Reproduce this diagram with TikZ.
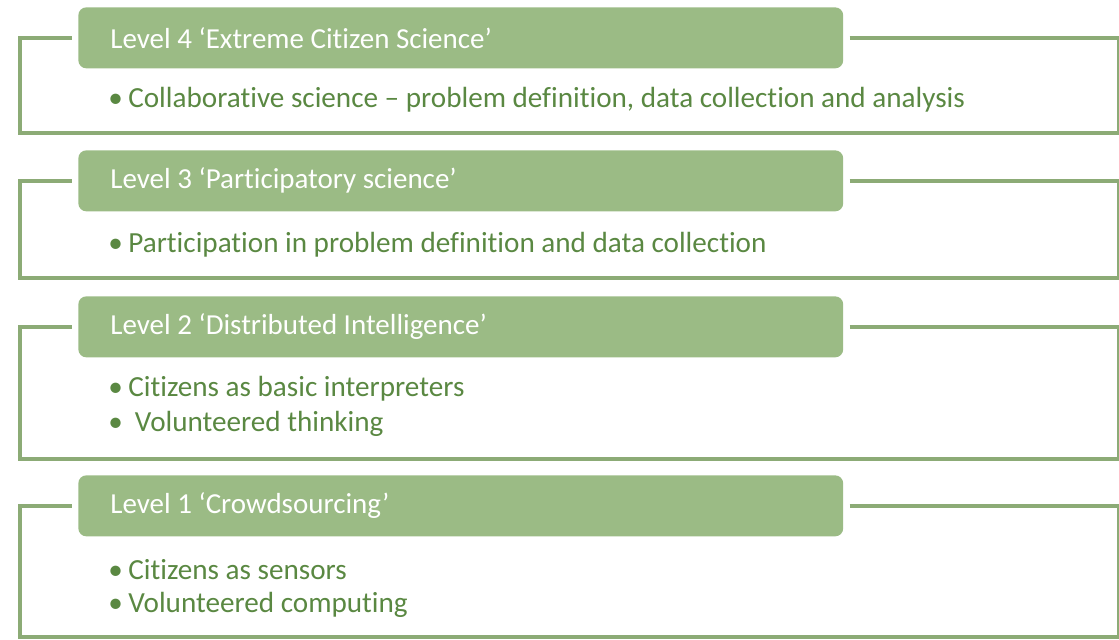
\documentclass[tikz,border=0pt]{standalone}
\usepackage{fontspec}
\setmainfont[Ligatures=NoCommon]{Carlito}
\definecolor{headgreen}{HTML}{9BBB85}
\definecolor{linegreen}{HTML}{8CAB76}
\definecolor{textgreen}{HTML}{5A8842}
\def\boxleft{20}
\def\boxright{1119}
\newcommand{\bul}{\makebox[0.4cm][l]{\textbullet}}
\newcommand{\headtext}[1]{\makebox[14.02cm][l]{#1}}
\tikzset{
	levelhead/.style={fill=headgreen, rounded corners=0.16cm, anchor=north west,
		minimum width=15.3cm, minimum height=1.22cm, inner xsep=0.64cm,
		text=white, font=\fontsize{16.5}{19}\selectfont},
	frameline/.style={draw=linegreen, line width=1.9pt, shorten <=0.12cm, shorten >=0.12cm},
	bullettext/.style={anchor=west, inner sep=0pt, text=textgreen, font=\fontsize{16.6}{19}\selectfont}
}

\begin{document}
\begin{tikzpicture}[x=0.02cm, y=-0.02cm]
				\useasboundingbox (0,0) rectangle (1119,639);
				
				%level headers
				\node[levelhead] (head4) at (78,7){\headtext{Level 4 ‘Extreme Citizen Science’}};
				\node[levelhead] (head3) at (78,150){\headtext{Level 3 ‘Participatory science’}};
				\node[levelhead] (head2) at (78,296){\headtext{Level 2 ‘Distributed Intelligence’}};
				\node[levelhead] (head1) at (78,475){\headtext{Level 1 ‘Crowdsourcing’}};
				
				%frame corners
				\coordinate (r4) at (\boxright,133); \coordinate (l4) at (\boxleft,133);
				\coordinate (r3) at (\boxright,278); \coordinate (l3) at (\boxleft,278);
				\coordinate (r2) at (\boxright,459); \coordinate (l2) at (\boxleft,459);
				\coordinate (r1) at (\boxright,637); \coordinate (l1) at (\boxleft,637);
				
				%drawing the frames
				\foreach \lev in {4,3,2,1}
					\draw[frameline] (head\lev.east) -| (r\lev) -- (l\lev) |- (head\lev.west);
				 
				\node[bullettext] (item4) at (108,100){\bul Collaborative science -- problem definition, data collection and analysis};
				\node[bullettext] (item3) at (108,245){\bul Participation in problem definition and data collection};
				\node[bullettext] (item2a) at (108,389){\bul Citizens as basic interpreters};
				\node[bullettext] (item2b) at (108,424){\bul{} Volunteered thinking};
				\node[bullettext] (item1a) at (108,570){\bul Citizens as sensors};
				\node[bullettext] (item1b) at (108,605){\bul Volunteered computing};
			\end{tikzpicture}
\end{document}
